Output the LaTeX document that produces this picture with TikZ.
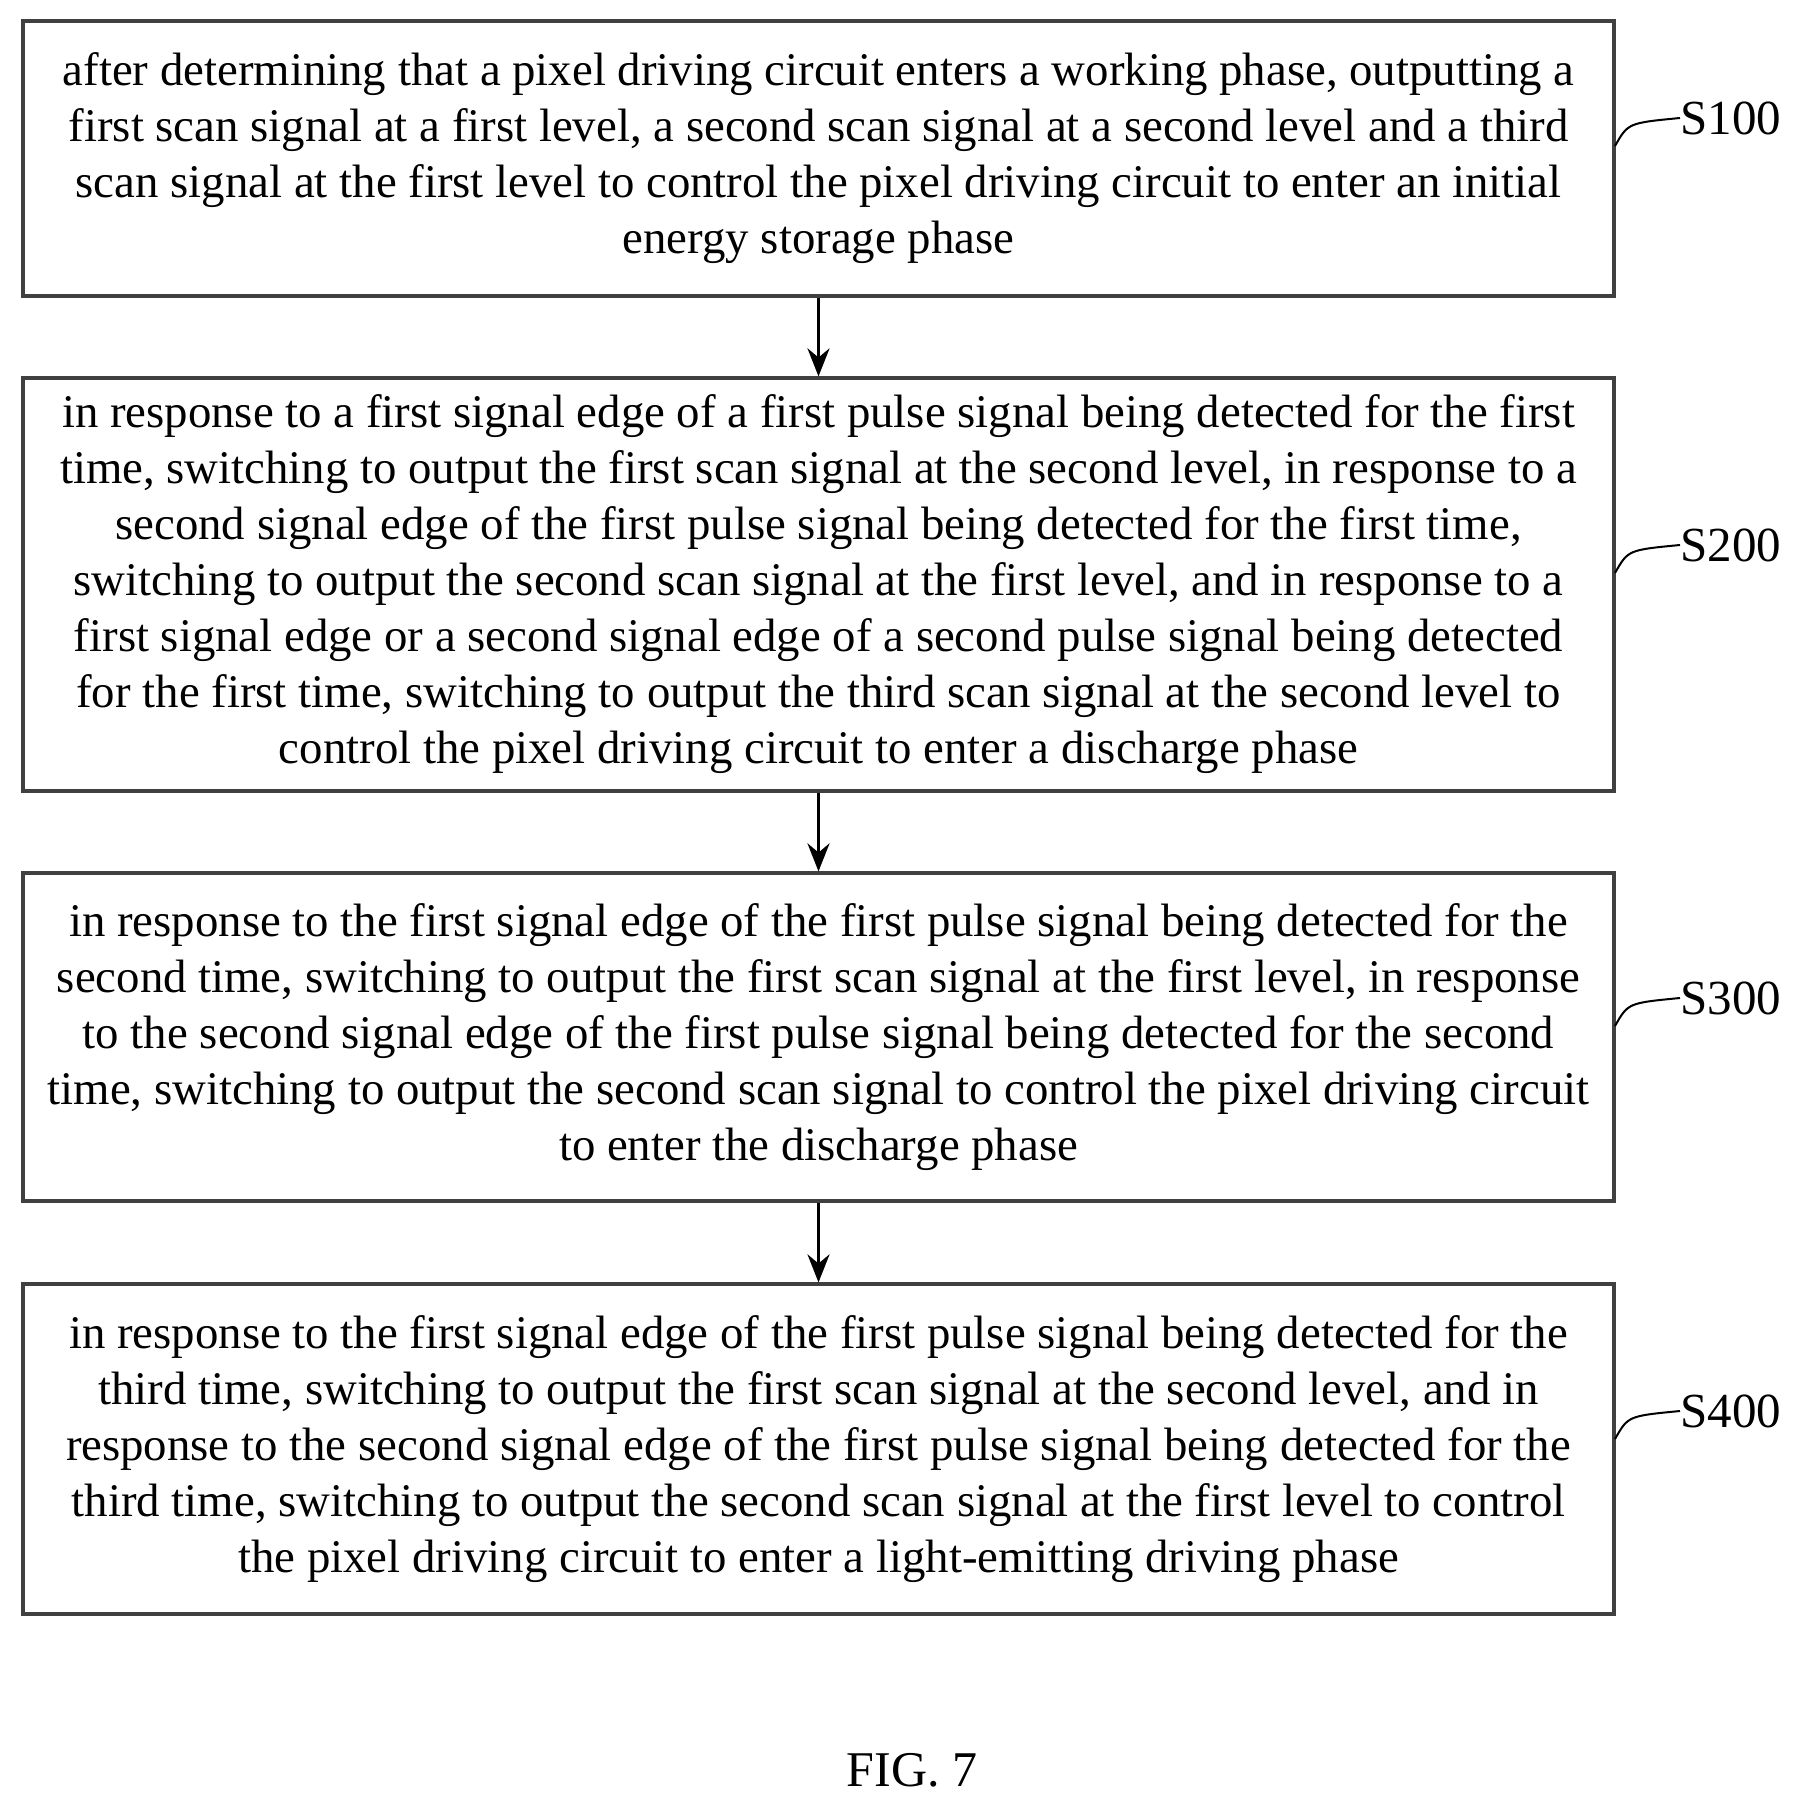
\documentclass[tikz,border=0pt]{standalone}
\usepackage{fontspec}
\setmainfont{Liberation Serif}
\usetikzlibrary{arrows.meta}
\begin{document}
\begin{tikzpicture}[x=0.5pt,y=-0.5pt,
  box/.style={draw=black!75,line width=1.6pt,inner sep=0pt,align=center,
    font=\fontsize{23.4}{28}\selectfont},
  arr/.style={-{Stealth[length=14pt,width=11pt]},line width=1.6pt},
  lab/.style={font=\fontsize{24.5}{28}\selectfont,anchor=west,inner sep=0pt},
  tick/.style={line width=1pt}]
\useasboundingbox (0,0) rectangle (1802,1808);
\node[box,minimum width=795.5pt,minimum height=137.5pt] (b1) at (818.5,158.5)
{after determining that a pixel driving circuit enters a working phase, outputting a\\
first scan signal at a first level, a second scan signal at a second level and a third\\
scan signal at the first level to control the pixel driving circuit to enter an initial\\
energy storage phase};
\node[box,minimum width=795.5pt,minimum height=206.5pt] (b2) at (818.5,584.5)
{in response to a first signal edge of a first pulse signal being detected for the first\\
time, switching to output the first scan signal at the second level, in response to a\\
second signal edge of the first pulse signal being detected for the first time,\\
switching to output the second scan signal at the first level, and in response to a\\
first signal edge or a second signal edge of a second pulse signal being detected\\
for the first time, switching to output the third scan signal at the second level to\\
control the pixel driving circuit to enter a discharge phase};
\node[box,minimum width=795.5pt,minimum height=164pt] (b3) at (818.5,1037)
{in response to the first signal edge of the first pulse signal being detected for the\\
second time, switching to output the first scan signal at the first level, in response\\
to the second signal edge of the first pulse signal being detected for the second\\
time, switching to output the second scan signal to control the pixel driving circuit\\
to enter the discharge phase};
\node[box,minimum width=795.5pt,minimum height=165pt] (b4) at (818.5,1449)
{in response to the first signal edge of the first pulse signal being detected for the\\
third time, switching to output the first scan signal at the second level, and in\\
response to the second signal edge of the first pulse signal being detected for the\\
third time, switching to output the second scan signal at the first level to control\\
the pixel driving circuit to enter a light-emitting driving phase};
\draw[arr] (b1.south) -- (b2.north);
\draw[arr] (b2.south) -- (b3.north);
\draw[arr] (b3.south) -- (b4.north);
\foreach \n/\y/\t in {1/118/S100,2/545/S200,3/998/S300,4/1411/S400}{
  \node[lab] (l\n) at (1680,\y) {\t};
  \coordinate (c\n) at (1615,\y+28);
  \draw[tick] (c\n) .. controls (1628,\y+5) .. (l\n.west);
}
\node[font=\fontsize{25}{30}\selectfont] (fig) at (912,1770) {FIG. 7};
\end{tikzpicture}
\end{document}
